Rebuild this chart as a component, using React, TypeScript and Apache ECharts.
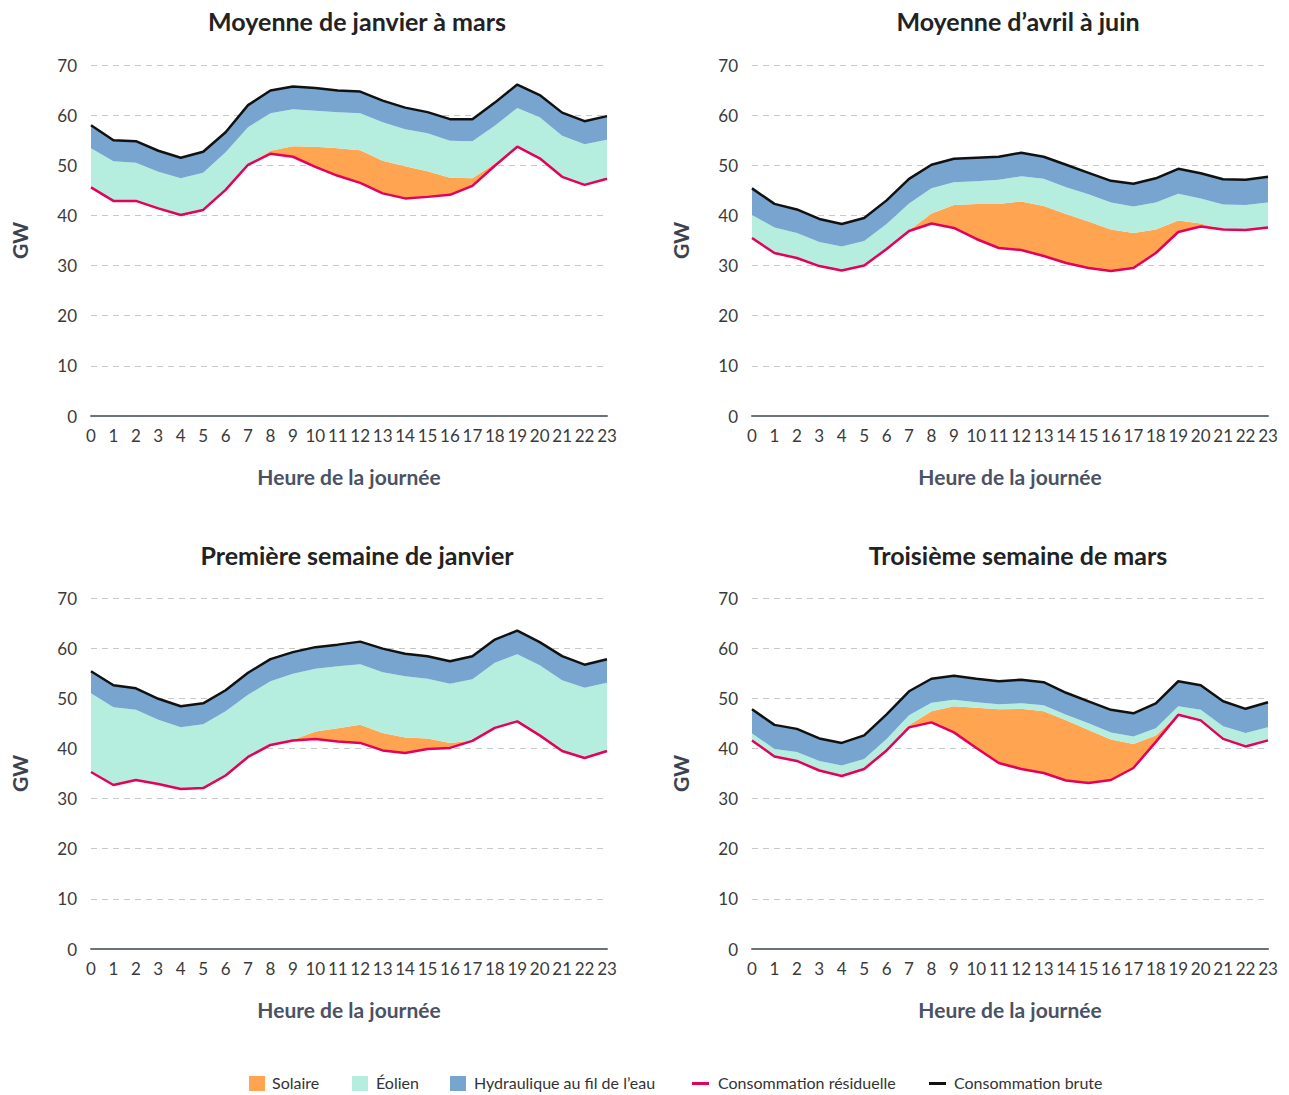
import React, { useEffect, useRef } from "react";
import * as echarts from "echarts";

const hours = ["0","1","2","3","4","5","6","7","8","9","10","11","12","13","14","15","16","17","18","19","20","21","22","23"];

const panelTitles = [
  "Moyenne de janvier à mars",
  "Moyenne d’avril à juin",
  "Première semaine de janvier",
  "Troisième semaine de mars",
];

// Panel 1 — Moyenne de janvier à mars
const residual1 = [45.6,42.9,42.9,41.4,40.1,41.1,45.1,50.1,52.3,51.7,49.7,47.9,46.5,44.4,43.4,43.7,44.1,45.9,49.9,53.7,51.4,47.7,46.1,47.3];
const solar1 = [0,0,0,0,0,0,0,0,0.6,2.1,4.0,5.5,6.5,6.5,6.4,5.1,3.4,1.5,0.4,0,0,0,0,0];
const wind1 = [7.8,7.9,7.6,7.3,7.3,7.4,7.5,7.5,7.5,7.4,7.2,7.2,7.4,7.7,7.4,7.6,7.4,7.4,7.6,7.7,8.2,8.2,8.1,7.8];
const hydro1 = [4.6,4.2,4.3,4.2,4.1,4.2,4.0,4.4,4.5,4.5,4.5,4.3,4.3,4.3,4.3,4.2,4.3,4.4,4.6,4.7,4.4,4.6,4.6,4.7];
const gross1 = [58.0,55.0,54.8,52.9,51.5,52.7,56.6,62.0,64.9,65.7,65.4,64.9,64.7,62.9,61.5,60.6,59.2,59.2,62.5,66.1,64.0,60.5,58.8,59.8];

// Panel 2 — Moyenne d'avril à juin
const residual2 = [35.5,32.5,31.5,29.9,29.0,30.0,33.3,36.9,38.4,37.5,35.3,33.5,33.1,31.9,30.5,29.5,28.9,29.5,32.5,36.7,37.8,37.2,37.1,37.6];
const solar2 = [0,0,0,0,0,0,0,0.1,2.0,4.6,7.0,8.8,9.7,10.0,9.8,9.3,8.3,7.0,4.7,2.3,0.6,0,0,0];
const wind2 = [4.6,5.1,5.0,4.8,4.8,4.9,5.0,5.4,5.0,4.5,4.5,4.8,5.0,5.4,5.3,5.4,5.4,5.3,5.4,5.3,5.0,5.0,5.0,5.0];
const hydro2 = [5.3,4.7,4.7,4.6,4.5,4.6,4.7,4.9,4.7,4.7,4.7,4.6,4.7,4.4,4.5,4.3,4.3,4.5,4.8,5.0,5.0,5.0,5.0,5.1];
const gross2 = [45.4,42.3,41.2,39.3,38.3,39.5,43.0,47.3,50.1,51.3,51.5,51.7,52.5,51.7,50.1,48.5,46.9,46.3,47.4,49.3,48.4,47.2,47.1,47.7];

// Panel 3 — Première semaine de janvier
const residual3 = [35.3,32.7,33.7,32.9,31.9,32.1,34.6,38.3,40.7,41.6,41.9,41.4,41.1,39.6,39.1,39.9,40.1,41.5,44.1,45.4,42.6,39.5,38.1,39.5];
const solar3 = [0,0,0,0,0,0,0,0,0,0.1,1.5,2.6,3.6,3.5,3.1,2.1,1.0,0.1,0,0,0,0,0,0];
const wind3 = [15.7,15.5,14.0,12.8,12.3,12.7,12.8,12.4,12.7,13.2,12.5,12.4,12.1,12.1,12.2,11.9,11.8,12.2,13.0,13.4,14.0,14.1,14.0,13.6];
const hydro3 = [4.4,4.4,4.3,4.2,4.2,4.2,4.2,4.4,4.4,4.3,4.3,4.3,4.5,4.7,4.5,4.5,4.5,4.6,4.6,4.7,4.6,4.8,4.6,4.7];
const gross3 = [55.4,52.6,52.0,49.9,48.4,49.0,51.6,55.1,57.8,59.2,60.2,60.7,61.3,59.9,58.9,58.4,57.4,58.4,61.7,63.5,61.2,58.4,56.7,57.8];

// Panel 4 — Troisième semaine de mars
const residual4 = [41.6,38.4,37.5,35.6,34.5,35.9,39.6,44.2,45.2,43.2,40.1,37.1,35.9,35.1,33.6,33.1,33.7,36.1,41.3,46.7,45.6,41.9,40.4,41.6];
const solar4 = [0,0,0,0,0,0,0,0.4,2.2,5.2,8.0,10.7,12.0,12.3,12.0,10.6,8.1,4.8,1.3,0,0,0,0,0];
const wind4 = [1.4,1.5,1.8,1.9,2.1,2.0,2.3,2.0,1.7,1.3,1.1,1.0,1.1,1.2,1.1,1.3,1.4,1.5,1.4,1.7,2.1,2.5,2.7,2.6];
const hydro4 = [4.8,4.8,4.6,4.5,4.5,4.7,4.9,4.8,4.8,4.8,4.7,4.6,4.7,4.6,4.4,4.4,4.5,4.6,5.0,5.0,4.9,5.0,4.8,5.0];
const gross4 = [47.8,44.7,43.9,42.0,41.1,42.6,46.8,51.4,53.9,54.5,53.9,53.4,53.7,53.2,51.1,49.4,47.7,47.0,49.0,53.4,52.6,49.4,47.9,49.2];

const seriesNames = ["Solaire", "Éolien", "Hydraulique au fil de l’eau", "Consommation résiduelle", "Consommation brute"];
const xAxisName = "Heure de la journée";
const yAxisName = "GW";

const panels = [
  { residual: residual1, solar: solar1, wind: wind1, hydro: hydro1, gross: gross1 },
  { residual: residual2, solar: solar2, wind: wind2, hydro: hydro2, gross: gross2 },
  { residual: residual3, solar: solar3, wind: wind3, hydro: hydro3, gross: gross3 },
  { residual: residual4, solar: solar4, wind: wind4, hydro: hydro4, gross: gross4 },
];

const COLORS = {
  solar: "#FFA552",
  wind: "#B5EEDF",
  hydro: "#78A5D0",
  residual: "#E5005A",
  gross: "#111111",
};

const FONT = "Lato, 'Open Sans', sans-serif";

const gridPos = [
  { left: 91, top: 65, cx: 357, ty: 8 },
  { left: 752, top: 65, cx: 1018, ty: 8 },
  { left: 91, top: 598, cx: 357, ty: 542 },
  { left: 752, top: 598, cx: 1018, ty: 542 },
];
const GRID_W = 516;
const GRID_H = 351;

function buildOption() {
  const grid: any[] = [];
  const xAxis: any[] = [];
  const yAxis: any[] = [];
  const series: any[] = [];
  const title: any[] = [];

  panels.forEach((p, i) => {
    const g = gridPos[i];
    grid.push({ left: g.left, top: g.top, width: GRID_W, height: GRID_H });
    title.push({
      text: panelTitles[i],
      left: g.cx,
      top: g.ty,
      textAlign: "center",
      padding: 0,
      textStyle: { fontFamily: FONT, fontSize: 25, fontWeight: "bold", color: "#222222" },
    });
    xAxis.push({
      type: "category",
      gridIndex: i,
      data: hours,
      boundaryGap: false,
      axisTick: { show: false },
      axisLine: { show: true, lineStyle: { color: "#6c727c", width: 2 } },
      axisLabel: { interval: 0, fontFamily: FONT, fontSize: 17, color: "#3a3a3a", margin: 11 },
      splitLine: { show: false },
      name: xAxisName,
      nameLocation: "middle",
      nameGap: 50,
      nameTextStyle: { fontFamily: FONT, fontSize: 21, fontWeight: "bold", color: "#4a5263" },
    });
    yAxis.push({
      type: "value",
      gridIndex: i,
      min: 0,
      max: 70,
      interval: 10,
      axisLine: { show: false },
      axisTick: { show: false },
      axisLabel: { fontFamily: FONT, fontSize: 17, color: "#3a3a3a", margin: 14 },
      splitLine: { show: true, lineStyle: { type: [6, 5], color: "#c8c8c8", width: 1 } },
      name: yAxisName,
      nameLocation: "middle",
      nameGap: 61,
      nameRotate: 90,
      nameTextStyle: { fontFamily: FONT, fontSize: 21, fontWeight: "bold", color: "#3c4250" },
    });

    const stack = "stack" + i;
    const base = {
      type: "line",
      xAxisIndex: i,
      yAxisIndex: i,
      symbol: "none",
      showSymbol: false,
      silent: true,
    };
    series.push({ ...base, name: "base" + i, stack, data: p.residual, lineStyle: { width: 0, opacity: 0 } });
    series.push({ ...base, name: seriesNames[0], stack, data: p.solar, lineStyle: { width: 0, opacity: 0 }, areaStyle: { color: COLORS.solar, opacity: 1 } });
    series.push({ ...base, name: seriesNames[1], stack, data: p.wind, lineStyle: { width: 0, opacity: 0 }, areaStyle: { color: COLORS.wind, opacity: 1 } });
    series.push({ ...base, name: seriesNames[2], stack, data: p.hydro, lineStyle: { width: 0, opacity: 0 }, areaStyle: { color: COLORS.hydro, opacity: 1 } });
    series.push({ ...base, name: seriesNames[3], data: p.residual, z: 5, lineStyle: { color: COLORS.residual, width: 2.5 } });
    series.push({ ...base, name: seriesNames[4], data: p.gross, z: 5, lineStyle: { color: COLORS.gross, width: 2.5 } });
  });

  const legendItems = [
    { kind: "rect", color: COLORS.solar, x: 249, tx: 272, label: seriesNames[0] },
    { kind: "rect", color: COLORS.wind, x: 352, tx: 376, label: seriesNames[1] },
    { kind: "rect", color: COLORS.hydro, x: 450, tx: 474, label: seriesNames[2] },
    { kind: "line", color: COLORS.residual, x: 692, tx: 718, label: seriesNames[3] },
    { kind: "line", color: COLORS.gross, x: 929, tx: 954, label: seriesNames[4] },
  ];
  const graphic: any[] = [];
  legendItems.forEach((it) => {
    if (it.kind === "rect") {
      graphic.push({ type: "rect", left: it.x, top: 1076, shape: { width: 16, height: 15 }, style: { fill: it.color } });
    } else {
      graphic.push({ type: "rect", left: it.x, top: 1082, shape: { width: 17, height: 3 }, style: { fill: it.color } });
    }
    graphic.push({
      type: "text",
      left: it.tx,
      top: 1074,
      style: { text: it.label, fontFamily: FONT, fontSize: 16, fill: "#333333" },
    });
  });

  return {
    animation: false,
    backgroundColor: "#ffffff",
    title,
    grid,
    xAxis,
    yAxis,
    series,
    graphic,
  };
}

export default function App() {
  const ref = useRef<HTMLDivElement>(null);
  useEffect(() => {
    if (!ref.current) return;
    const chart = echarts.init(ref.current, null, { renderer: "svg" });
    chart.setOption(buildOption() as any);
    return () => chart.dispose();
  }, []);
  return <div ref={ref} style={{ width: 1289, height: 1095, position: "absolute", left: 0, top: 0 }} />;
}
